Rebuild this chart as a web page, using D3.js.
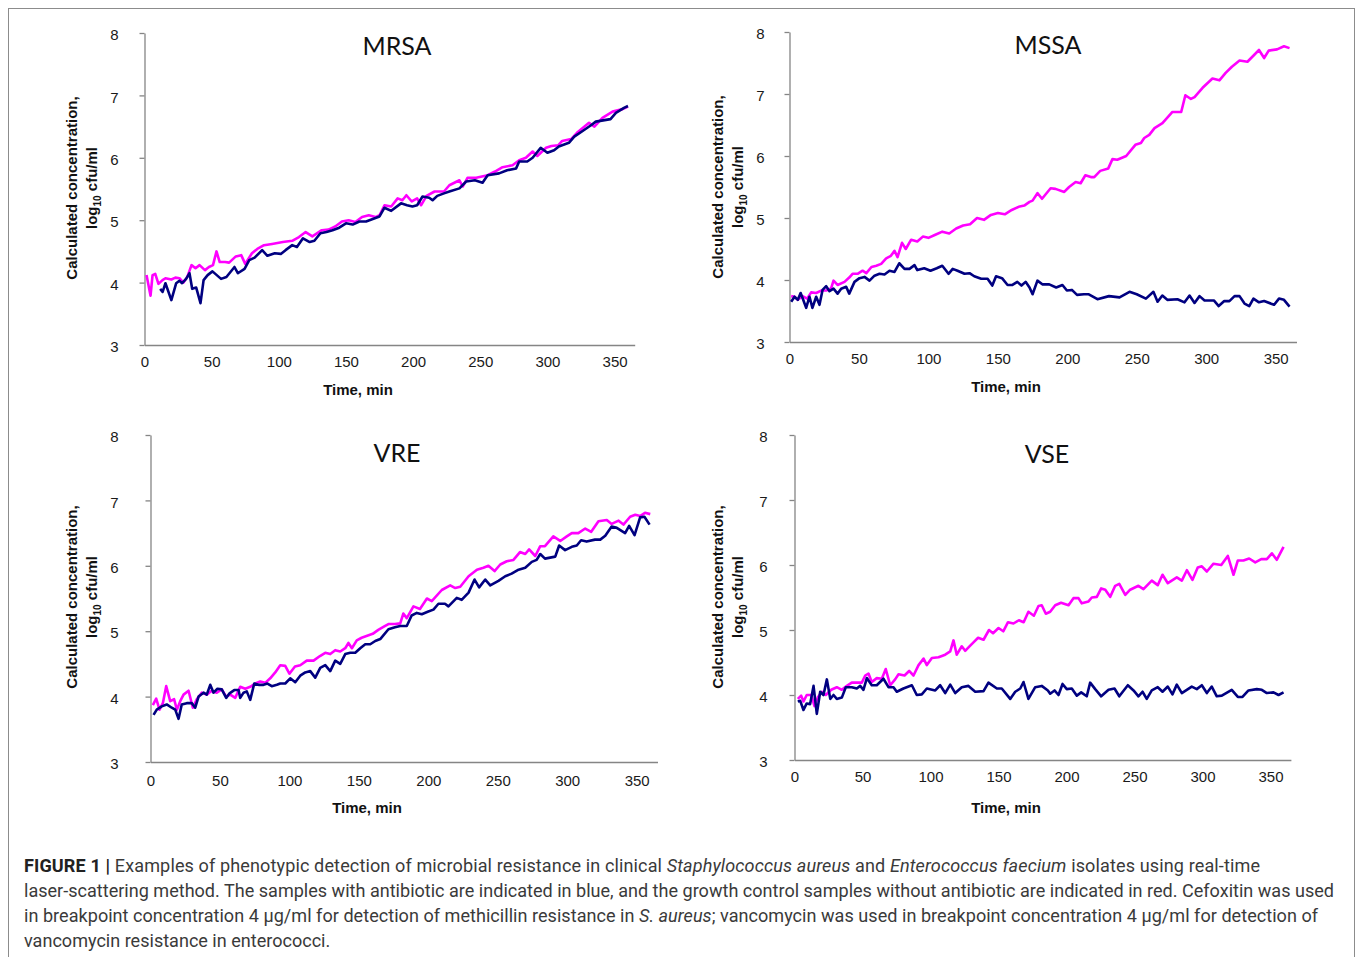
<!DOCTYPE html>
<html><head><meta charset="utf-8">
<script src="https://cdn.jsdelivr.net/npm/d3@7"></script>
<style>body{margin:0;background:#fff}</style>
</head><body>
<svg id="c" width="1357" height="957"></svg>
<script>
// ---------- data ----------
const panelNames = ["MRSA", "MSSA", "VRE", "VSE"];
const xTicks = [0, 50, 100, 150, 200, 250, 300, 350];
const yTicks = [3, 4, 5, 6, 7, 8];
const seriesNames = ["Growth control (no antibiotic)", "With antibiotic"];

// [time (min), log10 cfu/ml]
const mrsaControl = [[1.5,4.12],[4.5,3.79],[6,4.12],[8,4.14],[10.4,3.98],[13.4,4.04],[15.6,4.07],[20,4.05],[23,4.08],[26,4.07],[29,4.0],[32,4.1],[35,4.28],[38,4.23],[41,4.28],[45,4.2],[48,4.25],[51,4.28],[53.6,4.5],[56,4.33],[60,4.33],[63,4.32],[68,4.42],[72,4.44],[75,4.3],[80,4.47],[84,4.54],[89,4.6],[95,4.62],[103,4.65],[110,4.67],[115,4.73],[120,4.81],[125,4.74],[132,4.84],[137,4.85],[142,4.9],[147,4.98],[152,5.0],[157,4.97],[162,5.05],[167,5.08],[172,5.05],[175,5.08],[178.7,5.24],[183.7,5.22],[188.5,5.35],[192,5.32],[195,5.4],[199,5.3],[203,5.35],[206,5.24],[210,5.39],[216,5.46],[223,5.46],[227,5.56],[234.5,5.64],[237,5.54],[240.5,5.68],[247,5.68],[255.5,5.72],[261,5.78],[266.6,5.85],[274,5.88],[279,5.96],[284,6.0],[289,6.1],[292.5,6.03],[299,6.16],[303,6.19],[308,6.2],[311,6.27],[317.7,6.3],[322,6.4],[331,6.56],[335,6.5],[341,6.64],[348.5,6.74],[356,6.78],[360,6.82]];
const mrsaAntibiotic = [[11.7,3.9],[13.5,3.85],[15.6,3.99],[20,3.72],[23.6,3.99],[26,4.03],[28,3.99],[31,4.06],[33.5,4.15],[35.5,3.9],[38.5,3.92],[41.7,3.67],[44,4.04],[47,4.12],[50.6,4.18],[57,4.06],[61,4.09],[67,4.25],[69.5,4.15],[74.5,4.22],[78,4.36],[82,4.4],[87.6,4.52],[91.5,4.43],[97,4.47],[101.5,4.46],[105,4.52],[110,4.6],[113.5,4.57],[118,4.71],[123,4.65],[126.5,4.67],[131,4.79],[135.5,4.81],[140,4.84],[145,4.88],[150,4.95],[155,4.93],[160,4.98],[165,4.98],[170,5.02],[175,5.06],[178.7,5.2],[183.7,5.15],[191,5.27],[195.5,5.24],[199.5,5.22],[203,5.24],[207,5.38],[212,5.36],[214.5,5.32],[218,5.39],[223,5.43],[227,5.46],[234.5,5.51],[239.5,5.62],[246,5.64],[251.7,5.6],[255.5,5.72],[264,5.75],[270,5.8],[276.7,5.83],[279,5.94],[285,5.94],[289,6.0],[295,6.16],[300,6.08],[305,6.12],[308.5,6.18],[316,6.24],[320,6.34],[327.6,6.45],[333,6.53],[336,6.58],[347,6.62],[351,6.72],[357,6.8],[360,6.83]];

const mssaControl = [[1.2,3.74],[3.6,3.73],[6,3.68],[9.4,3.74],[12.7,3.7],[15.6,3.8],[19.2,3.79],[22.8,3.83],[26.4,3.83],[30,3.87],[31.7,3.99],[34.6,3.92],[39.6,3.97],[43,4.04],[45.4,4.1],[49,4.1],[52.6,4.15],[55.3,4.11],[59,4.21],[62.5,4.23],[66,4.26],[69.6,4.35],[73,4.39],[75.6,4.47],[77.8,4.37],[81,4.6],[83.7,4.5],[87.6,4.65],[92,4.62],[96,4.7],[100,4.68],[105,4.73],[110,4.78],[115,4.75],[120,4.83],[125,4.88],[130,4.9],[135,5.0],[140,4.97],[145,5.05],[150,5.08],[155,5.06],[160,5.13],[165,5.18],[169,5.2],[172.8,5.26],[175,5.28],[178.5,5.4],[181.8,5.31],[188,5.48],[191.5,5.47],[197.8,5.42],[201.3,5.5],[206,5.58],[209.6,5.56],[213,5.69],[217,5.66],[219.4,5.66],[223.7,5.76],[229.5,5.8],[232.5,5.95],[236,5.94],[242.4,6.0],[249,6.18],[253,6.21],[255.4,6.29],[259,6.34],[262.8,6.45],[268.5,6.53],[275.7,6.71],[282,6.71],[285,6.98],[289,6.92],[291.6,6.95],[297.4,7.1],[304.5,7.25],[309.5,7.22],[314,7.34],[318.5,7.44],[324,7.54],[329.7,7.52],[338,7.71],[341.7,7.58],[345,7.7],[351,7.72],[356,7.77],[360,7.74]];
const mssaAntibiotic = [[1.2,3.65],[3.6,3.73],[6,3.68],[8,3.79],[9.4,3.71],[12,3.55],[14.4,3.73],[16.5,3.55],[19.2,3.73],[21.6,3.6],[23.8,3.84],[26.4,3.9],[28.8,3.82],[31.7,3.86],[34.6,3.78],[37.2,3.86],[40.8,3.89],[43,3.78],[46.8,3.97],[50.4,4.03],[54,4.05],[57.6,3.99],[61.2,4.07],[64.8,4.1],[68.4,4.09],[72,4.15],[75.6,4.13],[79,4.27],[82.8,4.18],[86.4,4.18],[90,4.24],[92,4.16],[97,4.19],[101.5,4.15],[106,4.19],[110,4.23],[114.5,4.1],[117.5,4.18],[121,4.15],[126,4.1],[129.6,4.11],[133,4.06],[138,4.02],[142.6,4.02],[146,3.91],[148.7,4.06],[153,4.03],[157,3.92],[160.5,3.92],[164,3.97],[167,3.91],[170,3.97],[172.8,3.88],[175,3.77],[178.5,3.99],[182,3.93],[187,3.93],[192,3.88],[196.5,3.92],[199.7,3.83],[203.3,3.84],[207,3.76],[212,3.77],[215.5,3.77],[221.7,3.69],[230,3.74],[237.6,3.72],[244.8,3.81],[250,3.77],[256.6,3.7],[262,3.81],[265,3.65],[268.4,3.75],[272,3.68],[279.3,3.69],[284.4,3.64],[288,3.75],[291.6,3.63],[295.2,3.74],[298.8,3.67],[305.5,3.67],[309,3.58],[313,3.66],[316.7,3.66],[320.4,3.74],[324,3.74],[327.6,3.62],[331,3.58],[334,3.7],[338,3.64],[341.7,3.66],[348.9,3.6],[352.4,3.7],[356,3.68],[360,3.57]];

const vreControl = [[1.7,3.87],[4.1,3.97],[6.5,3.8],[8.9,3.9],[11.3,4.16],[14.2,3.93],[17,3.96],[19,3.8],[21.4,3.93],[23.8,4.03],[27.4,4.09],[30.5,3.83],[33.3,3.96],[37,4.06],[40.5,4.03],[44,4.09],[47.7,4.06],[51.3,4.11],[54.5,4.0],[57.4,4.03],[61,3.98],[64.6,4.15],[68.2,4.12],[71.8,4.15],[75.4,4.2],[79,4.23],[82.6,4.21],[86.2,4.28],[89.8,4.37],[93.4,4.48],[97,4.47],[100,4.35],[104,4.46],[107.8,4.48],[112.5,4.55],[117.4,4.55],[122,4.62],[125.8,4.67],[129.4,4.65],[133,4.71],[136.6,4.69],[140.2,4.74],[142.5,4.82],[145,4.74],[148.5,4.86],[152,4.9],[156,4.93],[160,4.96],[164,5.02],[168,5.07],[171.3,5.11],[176,5.11],[179.8,5.12],[182,5.27],[184.5,5.2],[189.3,5.38],[194,5.34],[199,5.5],[202.5,5.46],[209.7,5.63],[215.8,5.7],[219.4,5.66],[223,5.68],[229,5.84],[235,5.94],[239.7,5.97],[243.3,6.0],[247.7,5.92],[251.8,6.02],[256.5,6.07],[261.3,6.09],[266,6.21],[269.8,6.18],[272.6,6.25],[277,6.15],[280.6,6.3],[284,6.3],[290,6.45],[295,6.38],[299.7,6.45],[303.3,6.5],[308,6.5],[313,6.57],[317.3,6.52],[322.5,6.68],[328.5,6.7],[332,6.64],[337,6.69],[340.5,6.63],[345.3,6.75],[349,6.78],[352.5,6.76],[356,6.81],[359.8,6.79]];
const vreAntibiotic = [[2.2,3.72],[4.5,3.8],[8.1,3.85],[11.7,3.88],[15.3,3.83],[17.8,3.8],[20.2,3.66],[22.5,3.88],[26.1,3.9],[29.7,3.9],[32.2,3.83],[34.6,4.0],[38.2,4.06],[40.5,4.03],[43,4.18],[45.4,4.06],[48.2,4.12],[51.3,4.11],[54.5,3.98],[56.9,4.05],[60.3,4.1],[63.4,4.1],[64.6,3.98],[67,4.06],[69.3,4.08],[71.8,3.95],[74.7,4.2],[77.8,4.18],[81.4,4.18],[84.2,4.2],[87.3,4.16],[91,4.18],[93.4,4.2],[97,4.2],[100.6,4.28],[104.2,4.22],[107.8,4.32],[111.4,4.37],[115,4.39],[118.6,4.29],[122.2,4.44],[125.8,4.48],[129.4,4.39],[133,4.55],[136.6,4.5],[140.2,4.65],[143.8,4.67],[147.4,4.67],[151,4.74],[154.6,4.8],[158.2,4.8],[161.8,4.85],[165.4,4.88],[171.3,5.03],[176,5.06],[179.8,5.08],[184.5,5.08],[188,5.24],[191.7,5.28],[195.3,5.26],[200,5.3],[203.7,5.33],[207.3,5.42],[212,5.42],[214.5,5.38],[220.5,5.51],[224,5.48],[229,5.59],[233.3,5.79],[236.6,5.67],[241,5.79],[244.6,5.7],[250.5,5.77],[255.4,5.84],[260,5.88],[265,5.94],[269.8,5.97],[274.5,6.06],[278,6.09],[280.6,6.18],[284,6.11],[291.4,6.14],[294.2,6.31],[298.5,6.24],[303.3,6.29],[306.9,6.31],[310,6.39],[314,6.37],[320,6.4],[323.8,6.4],[327.4,6.46],[332,6.6],[335.7,6.58],[341.7,6.5],[344.6,6.61],[348.5,6.47],[352.5,6.74],[355.6,6.75],[359.3,6.63]];

const vseControl = [[2.4,3.94],[4.9,3.99],[6.6,3.9],[9,4.0],[12.3,4.0],[14.7,3.83],[17.1,3.96],[20.1,4.05],[23,4.0],[27,4.08],[31.1,4.12],[34.8,4.08],[38.5,4.14],[42.1,4.19],[45.8,4.19],[49.5,4.19],[52,4.3],[54.4,4.33],[56.8,4.2],[60.5,4.26],[64.2,4.25],[67.1,4.4],[70.4,4.15],[74,4.24],[76.5,4.32],[80.9,4.3],[84.3,4.37],[87.5,4.3],[91.2,4.46],[94.9,4.56],[97.3,4.46],[101,4.57],[105.9,4.58],[110.8,4.62],[114.5,4.67],[116.9,4.84],[119.3,4.62],[123,4.75],[125.5,4.68],[129.2,4.76],[131.6,4.81],[135,4.88],[139,4.85],[143,5.0],[146,4.95],[150,5.03],[153.5,4.98],[157,5.12],[161,5.1],[165,5.15],[168.5,5.12],[172,5.28],[176,5.22],[179.4,5.37],[181.8,5.38],[184.8,5.25],[188,5.28],[191.7,5.38],[196,5.42],[201.5,5.38],[205.1,5.49],[208.8,5.49],[211.2,5.41],[216.2,5.44],[218.6,5.5],[222.3,5.51],[225.5,5.64],[228.5,5.62],[232.1,5.51],[235.8,5.68],[238.8,5.71],[243.2,5.54],[246.8,5.62],[252.9,5.68],[256.6,5.63],[262.7,5.76],[267.1,5.69],[270.6,5.85],[274.5,5.72],[281.1,5.81],[284.8,5.76],[288.5,5.92],[292.6,5.77],[296.5,5.96],[299.5,5.98],[303.2,5.9],[308.1,6.02],[313.8,6.0],[318.6,6.14],[322.8,5.85],[326,6.07],[330.1,6.07],[334.3,6.1],[338.8,6.04],[343.2,6.09],[347.3,6.09],[351,6.18],[354.6,6.08],[359.6,6.28]];
const vseAntibiotic = [[2.4,3.9],[4.2,3.91],[6.6,3.77],[9,3.87],[11.5,3.86],[14,4.14],[16.4,3.71],[18.9,4.05],[21.3,4.0],[23.8,4.24],[26.3,3.94],[28.7,4.0],[31.1,3.94],[34.8,3.96],[37.7,4.12],[42.1,4.12],[45.8,4.1],[48.3,4.14],[50.7,4.08],[53.2,4.26],[56.8,4.15],[60.5,4.15],[65.4,4.25],[69.1,4.12],[72.8,4.12],[75.2,4.05],[80.1,4.1],[86.3,4.15],[89.9,4.0],[93.6,4.01],[97.3,4.1],[103.5,4.07],[107.1,4.15],[110.8,4.03],[114.5,4.16],[118.2,4.03],[123,4.12],[127.9,4.14],[132.9,4.05],[139,4.06],[142.6,4.19],[148.8,4.1],[152.4,4.1],[158.6,3.94],[162.3,4.05],[166,4.1],[168.4,4.2],[172,3.94],[177,4.12],[181.8,4.14],[186.3,4.07],[188,4.02],[191.2,4.07],[194.1,4.0],[197.1,4.17],[200.2,4.09],[203.9,4.1],[207.6,3.99],[210.8,4.04],[214.9,3.98],[217.4,4.19],[221.1,4.09],[225.5,3.98],[230.9,4.08],[235.3,4.1],[238.8,3.98],[245.1,4.15],[249.3,4.07],[252.9,3.98],[255.9,4.05],[259,3.94],[262.7,4.07],[267.1,4.12],[270.6,4.05],[274.5,4.13],[277.9,4.01],[281.1,4.16],[284.8,4.03],[292.1,4.13],[295.8,4.09],[299.5,4.15],[303.2,4.03],[306.8,4.13],[310.5,3.98],[314.2,3.99],[321.5,4.08],[326,3.97],[329.4,3.97],[333.8,4.07],[339.9,4.09],[343.6,4.08],[347.3,4.03],[352.2,4.04],[355.9,4.0],[359.6,4.04]];

const captionLines = [
  [["FIGURE 1 | ", "b"], ["Examples of phenotypic detection of microbial resistance in clinical ", ""], ["Staphylococcus aureus", "i"], [" and ", ""], ["Enterococcus faecium", "i"], [" isolates using real-time", ""]],
  [["laser-scattering method. The samples with antibiotic are indicated in blue, and the growth control samples without antibiotic are indicated in red. Cefoxitin was used", ""]],
  [["in breakpoint concentration 4 \u00b5g/ml for detection of methicillin resistance in ", ""], ["S. aureus", "i"], ["; vancomycin was used in breakpoint concentration 4 \u00b5g/ml for detection of", ""]],
  [["vancomycin resistance in enterococci.", ""]]
];

// ---------- layout ----------
const layout = [
  {data:[mrsaControl, mrsaAntibiotic], x0:144.5, ppm:1.343, yTop:33, yBot:345, yPad:21, xPad:11, titleX:397, titleY:55, yt1:72, yt2:92, ytY:188, xtX:358, xtY:395},
  {data:[mssaControl, mssaAntibiotic], x0:789.5, ppm:1.389, yTop:32, yBot:342, yPad:20, xPad:11, titleX:1048, titleY:54, yt1:718, yt2:738, ytY:187, xtX:1006, xtY:392},
  {data:[vreControl, vreAntibiotic], x0:150.5, ppm:1.389, yTop:435, yBot:762, yPad:27, xPad:13, titleX:397, titleY:462, yt1:72, yt2:92, ytY:597, xtX:367, xtY:813},
  {data:[vseControl, vseAntibiotic], x0:794.5, ppm:1.36, yTop:435, yBot:760, yPad:22, xPad:11, titleX:1047, titleY:463, yt1:718, yt2:738, ytY:597, xtX:1006, xtY:813}
];
const colors = ["#ff00ff", "#000080"];
const axisColor = "#858585";
const sans = "'Liberation Sans', Arial, sans-serif";

const svg = d3.select("#c");
svg.append("rect").attr("x", 8.5).attr("y", 8.5).attr("width", 1346).attr("height", 1000)
  .attr("fill", "none").attr("stroke", "#8c8c8c").attr("stroke-width", 1);

layout.forEach((p, i) => {
  const g = svg.append("g");
  const x = d3.scaleLinear().domain([0, 365]).range([p.x0, p.x0 + 365 * p.ppm]);
  const y = d3.scaleLinear().domain([3, 8]).range([p.yBot, p.yTop]);

  const ya = g.append("g").attr("transform", `translate(${p.x0},0)`)
    .call(d3.axisLeft(y).tickValues(yTicks).tickFormat(d3.format("d")).tickSize(5).tickSizeOuter(0).tickPadding(p.yPad));
  const xa = g.append("g").attr("transform", `translate(0,${p.yBot})`)
    .call(d3.axisBottom(x).tickValues(xTicks).tickFormat(d3.format("d")).tickSize(0).tickSizeOuter(0).tickPadding(p.xPad));
  [ya, xa].forEach(a => {
    a.select(".domain").attr("stroke", axisColor).attr("stroke-width", 1.3);
    a.selectAll(".tick line").attr("stroke", axisColor).attr("stroke-width", 1.3);
    a.selectAll(".tick text").attr("fill", "#1a1a1a").style("font-family", sans).style("font-size", "15px");
  });
  ya.selectAll(".tick text").attr("dy", "0.45em");

  const line = d3.line().x(d => x(d[0])).y(d => y(d[1]));
  p.data.forEach((s, k) => {
    g.append("path").datum(s).attr("d", line).attr("fill", "none")
      .attr("stroke", colors[k]).attr("stroke-width", 2.6).attr("stroke-linejoin", "round");
  });

  g.append("text").attr("x", p.titleX).attr("y", p.titleY).attr("text-anchor", "middle")
    .style("font-family", "Lato, 'Open Sans', sans-serif").style("font-size", "25px").attr("fill", "#111")
    .text(panelNames[i]);

  g.append("text").attr("x", p.xtX).attr("y", p.xtY).attr("text-anchor", "middle")
    .style("font-family", sans).style("font-size", "15px").style("font-weight", "bold").attr("fill", "#111")
    .text("Time, min");

  g.append("text").attr("transform", `translate(${p.yt1},${p.ytY}) rotate(-90)`).attr("text-anchor", "middle")
    .attr("dy", "0.35em").style("font-family", sans).style("font-size", "15px").style("font-weight", "bold").attr("fill", "#111")
    .text("Calculated concentration,");
  const t2 = g.append("text").attr("transform", `translate(${p.yt2},${p.ytY}) rotate(-90)`).attr("text-anchor", "middle")
    .attr("dy", "0.35em").style("font-family", sans).style("font-size", "15px").style("font-weight", "bold").attr("fill", "#111");
  t2.append("tspan").text("log");
  t2.append("tspan").attr("dy", 4).style("font-size", "10px").text("10");
  t2.append("tspan").attr("dy", -4).text(" cfu/ml");
});

// ---------- caption ----------
const capX = 24, capY0 = 872, capDY = 25;
const capEnds = [1260, 1334, 1318, null];
let capSize = 17;
const cap = svg.append("g").style("font-family", "Roboto, 'Liberation Sans', sans-serif").attr("fill", "#3a3a3a");
const capTexts = captionLines.map((ln, j) => {
  const t = cap.append("text").attr("x", capX).attr("y", capY0 + j * capDY).style("font-size", capSize + "px");
  ln.forEach(([s, st]) => {
    const ts = t.append("tspan").text(s);
    if (st === "b") ts.style("font-weight", "bold").attr("fill", "#222");
    if (st === "i") ts.style("font-style", "italic");
  });
  return t;
});
// fit the widest line to its reference width
const w2 = capTexts[1].node().getComputedTextLength();
capSize = capSize * (capEnds[1] - capX) / w2;
capTexts.forEach((t, j) => {
  t.style("font-size", capSize.toFixed(2) + "px");
  if (capEnds[j]) t.attr("textLength", capEnds[j] - capX).attr("lengthAdjust", "spacing");
});
</script>
</body></html>
